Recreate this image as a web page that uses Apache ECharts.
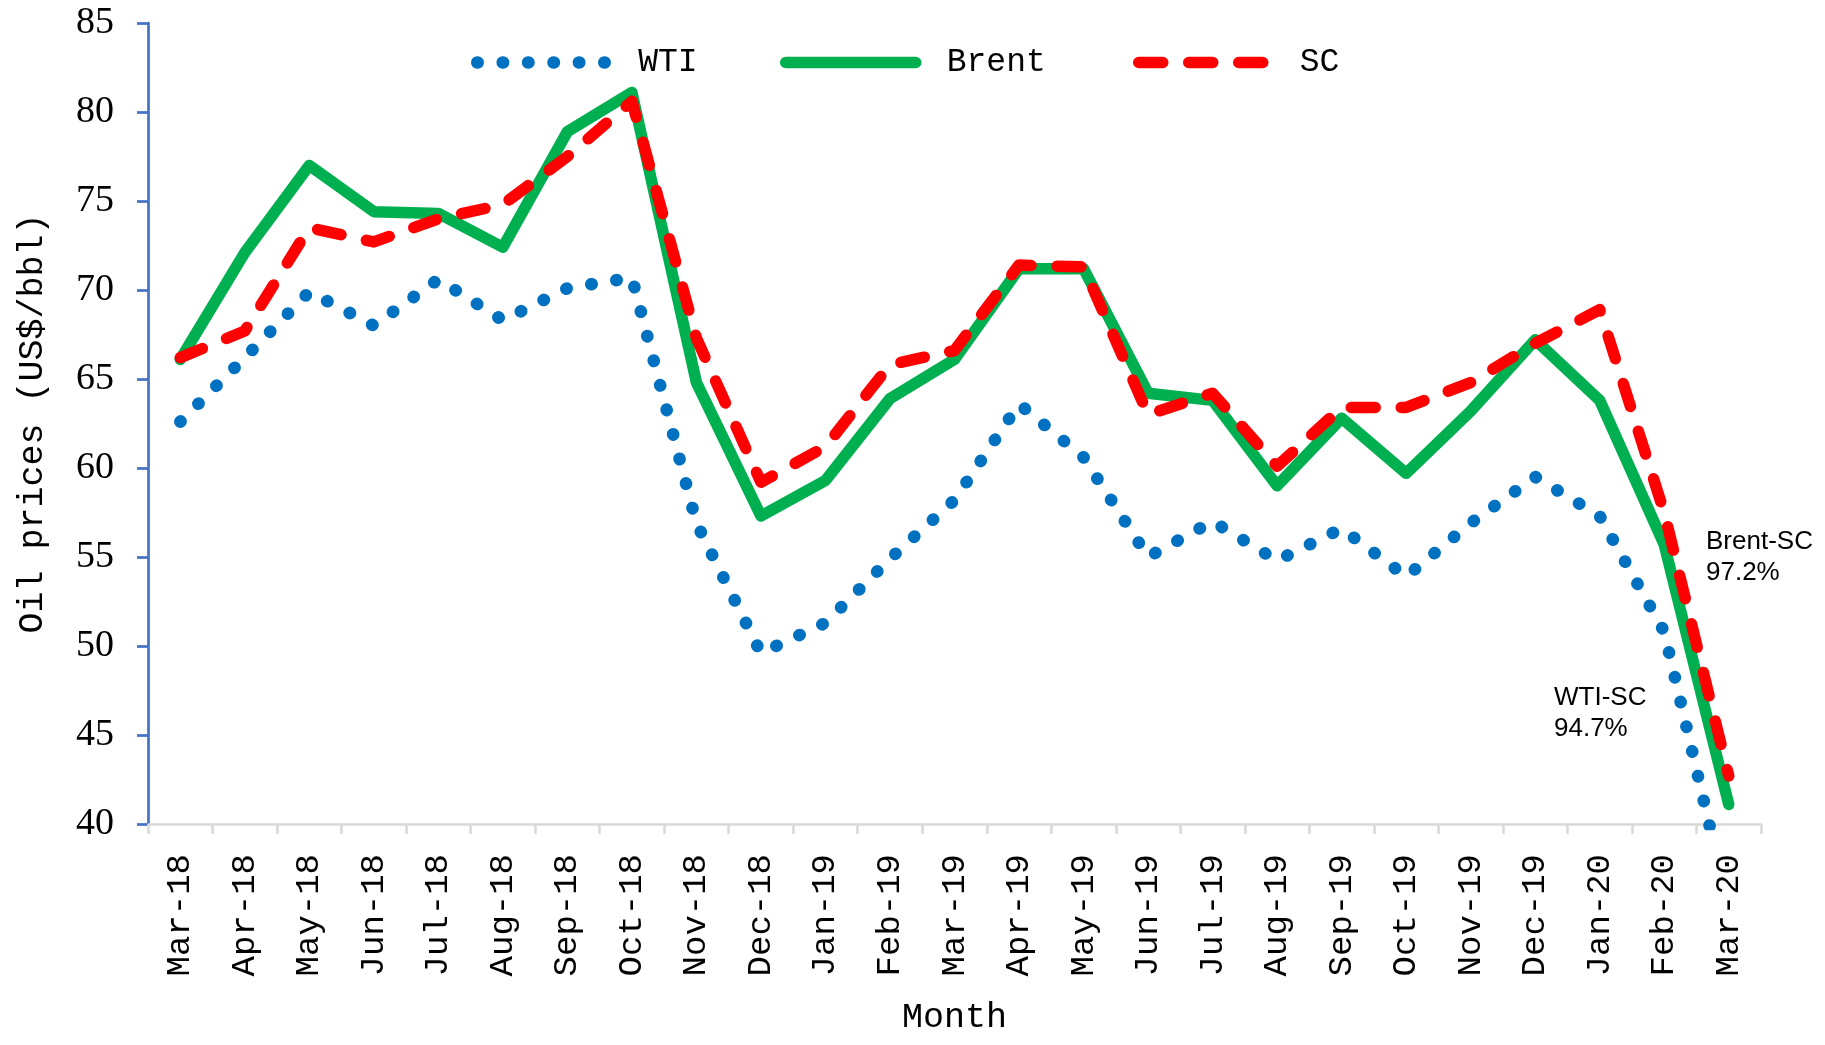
<!DOCTYPE html>
<html>
<head>
<meta charset="utf-8">
<script src="https://cdn.jsdelivr.net/npm/echarts@6/dist/echarts.min.js"></script>
<style>
  html, body { margin: 0; padding: 0; background: #fff; }
  #chart { width: 1825px; height: 1045px; }
</style>
</head>
<body>
<div id="chart"></div>
<script>
const months = [
  "Mar-18", "Apr-18", "May-18", "Jun-18", "Jul-18", "Aug-18", "Sep-18", "Oct-18",
  "Nov-18", "Dec-18", "Jan-19", "Feb-19", "Mar-19", "Apr-19", "May-19", "Jun-19",
  "Jul-19", "Aug-19", "Sep-19", "Oct-19", "Nov-19", "Dec-19", "Jan-20", "Feb-20", "Mar-20"
];
const wti = [62.6, 66.2, 69.9, 68.0, 70.6, 68.3, 70.1, 70.7, 56.9, 49.6, 51.3, 54.9, 58.2,
  63.6, 60.6, 55.0, 57.0, 54.8, 56.6, 53.9, 56.9, 59.5, 57.3, 50.8, 35.3];
const brent = [66.1, 72.1, 77.0, 74.4, 74.3, 72.4, 78.9, 81.1, 64.8, 57.3, 59.3, 63.9, 66.1,
  71.2, 71.2, 64.2, 63.8, 59.0, 62.8, 59.7, 63.2, 67.2, 63.8, 55.7, 41.1];
const sc = [66.2, 67.7, 73.5, 72.7, 74.0, 74.8, 77.5, 80.6, 67.3, 59.2, 61.2, 65.8, 66.6,
  71.4, 71.3, 63.0, 64.2, 60.1, 63.4, 63.4, 64.8, 67.0, 68.9, 57.5, 42.7];

const MONO = '"Liberation Mono", "DejaVu Sans Mono", monospace';
const SERIF = '"Liberation Serif", "DejaVu Serif", serif';

// line looks, shared by series and their legend icons
const wtiLine = { color: "#0070C0", width: 12.5, type: [0.5, 24.9], cap: "round", join: "round" };
const brentLine = { color: "#00B050", width: 11.5, type: "solid", cap: "round", join: "round" };
const scLine = { color: "#FF0000", width: 11.5, type: [24, 26], cap: "round", join: "round" };

const chart = echarts.init(document.getElementById("chart"));

function legendFor(name, left, lineStyle) {
  return {
    data: [name],
    left: left,
    top: 41,
    itemWidth: 130,
    itemHeight: 24,
    itemStyle: { color: "rgba(0,0,0,0)", borderWidth: 0, opacity: 0 },
    lineStyle: lineStyle,
    textStyle: { fontFamily: MONO, fontSize: 33, color: "#000", padding: [0, 0, 0, 26] },
  };
}

chart.setOption({
  animation: false,
  backgroundColor: "#fff",
  grid: { left: 148, right: 64, top: 23, bottom: 221 },
  legend: [
    legendFor("WTI", 466, wtiLine),
    legendFor("Brent", 775, brentLine),
    legendFor("SC", 1128, scLine),
  ],
  xAxis: {
    type: "category",
    data: months,
    boundaryGap: true,
    name: "Month",
    nameLocation: "middle",
    nameGap: 176,
    nameTextStyle: { fontFamily: MONO, fontSize: 35, color: "#000" },
    axisLine: { lineStyle: { color: "#D9D9D9", width: 2.5 } },
    axisTick: { show: true, length: 10, lineStyle: { color: "#D9D9D9", width: 2.5 } },
    axisLabel: { rotate: 90, margin: 30, fontFamily: MONO, fontSize: 34, color: "#000", interval: 0 },
    splitLine: { show: false },
  },
  yAxis: {
    type: "value",
    min: 40,
    max: 85,
    interval: 5,
    name: "Oil prices (US$/bbl)",
    nameLocation: "middle",
    nameRotate: 90,
    nameGap: 98,
    nameTextStyle: { fontFamily: MONO, fontSize: 35, color: "#000" },
    axisLine: { show: true, lineStyle: { color: "#4472C4", width: 2.7 } },
    axisTick: { show: true, length: 11, lineStyle: { color: "#4472C4", width: 2.7 } },
    axisLabel: { margin: 34, fontFamily: SERIF, fontSize: 38, color: "#000" },
    splitLine: { show: false },
  },
  series: [
    { name: "WTI", type: "line", data: wti, symbol: "none", lineStyle: wtiLine, itemStyle: { color: "#0070C0" } },
    { name: "Brent", type: "line", data: brent, symbol: "none", lineStyle: brentLine, itemStyle: { color: "#00B050" } },
    { name: "SC", type: "line", data: sc, symbol: "none", lineStyle: scLine, itemStyle: { color: "#FF0000" } },
  ],
  graphic: [
    {
      type: "text",
      left: 1706,
      top: 526,
      style: { text: "Brent-SC\n97.2%", font: '26px "Liberation Sans", Arial, sans-serif', fill: "#000", lineHeight: 31 },
    },
    {
      type: "text",
      left: 1554,
      top: 682,
      style: { text: "WTI-SC\n94.7%", font: '26px "Liberation Sans", Arial, sans-serif', fill: "#000", lineHeight: 31 },
    },
  ],
});

window.addEventListener("resize", () => chart.resize());
</script>
</body>
</html>
